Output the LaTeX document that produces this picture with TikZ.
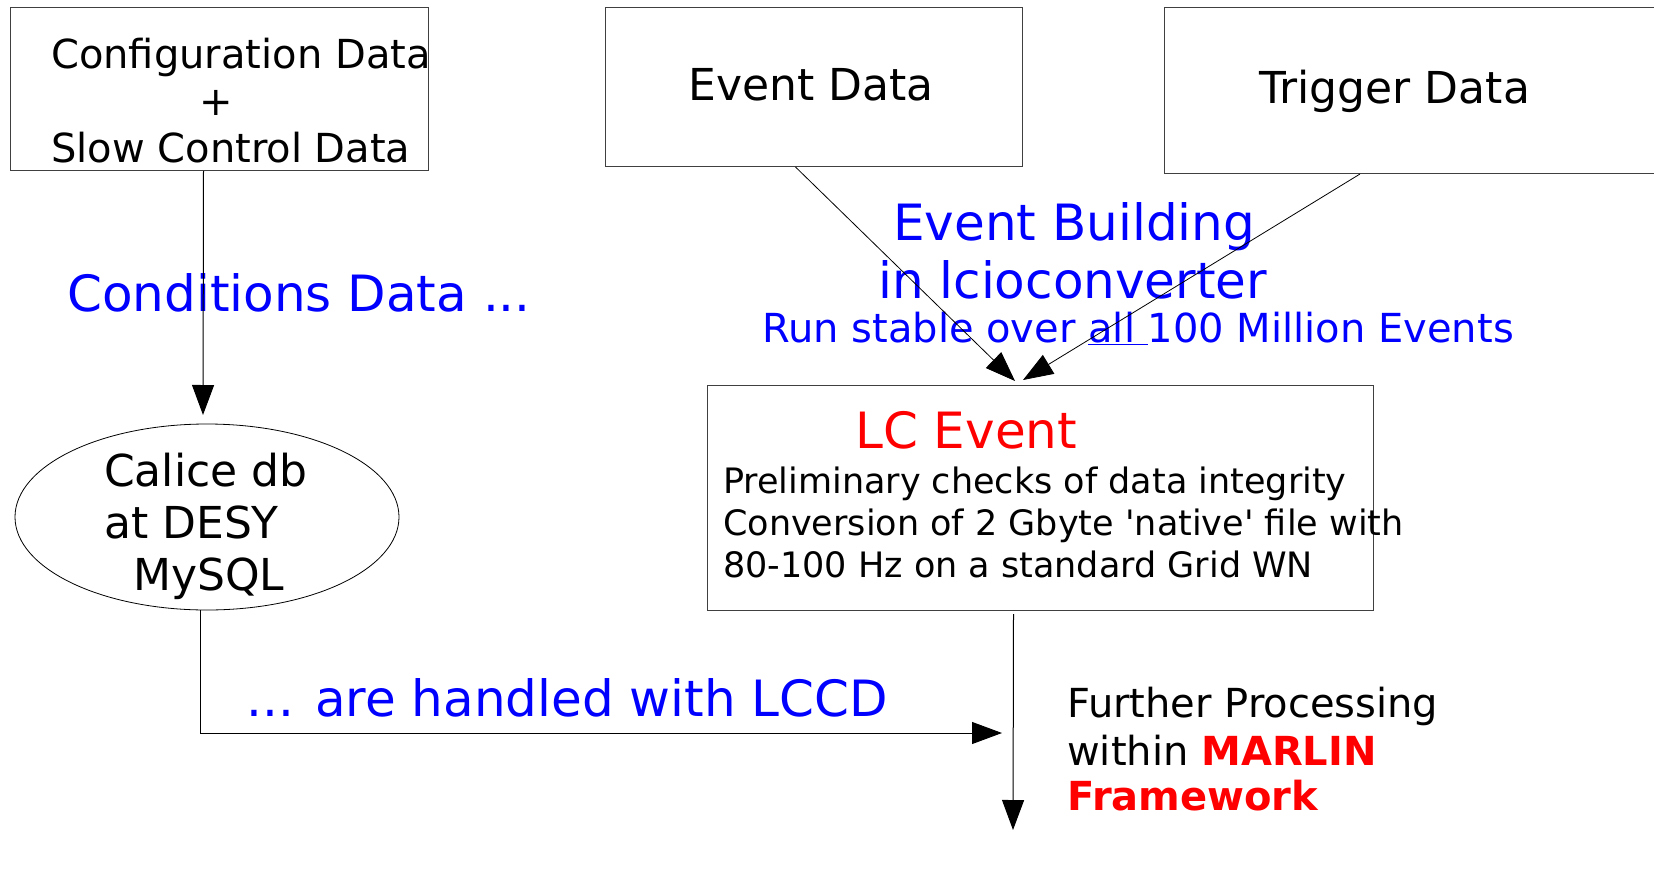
\documentclass[tikz,border=0pt]{standalone}
\usepackage{fontspec}
\setmainfont{DejaVu Sans}[Ligatures=TeXOff]
\usetikzlibrary{arrows.meta,shapes.geometric}
\definecolor{myblue}{RGB}{0,0,255}
\definecolor{myred}{RGB}{255,0,0}
\tikzset{
  boxnode/.style={draw=black!75,line width=1pt,rectangle,inner sep=0pt,anchor=north west},
  txt/.style={inner sep=0pt,anchor=base west},
  arr/.style={line width=1pt,-{Triangle[length=30pt,width=22pt]}},
  thinarr/.style={line width=0.8pt,-{Triangle[length=30pt,width=22pt]}},
  fA/.style={font=\fontsize{40}{47}\selectfont},
  fB/.style={font=\fontsize{44}{52}\selectfont},
  fC/.style={font=\fontsize{50}{58}\selectfont},
  fD/.style={font=\fontsize{35}{42}\selectfont},
}
\begin{document}
\begin{tikzpicture}[x=1pt,y=-1pt]
\useasboundingbox (0,0) rectangle (1654,875);
% boxes
\node[boxnode,minimum width=418pt,minimum height=163pt] (cfg) at (10,7) {};
\node[boxnode,minimum width=417pt,minimum height=159pt] (ev) at (605,7) {};
\node[boxnode,minimum width=560pt,minimum height=166pt] (trig) at (1164,7) {};
\node[draw=black,line width=0.8pt,ellipse,inner sep=0pt,minimum width=384pt,minimum height=186pt] (calice) at (207,517) {};
\node[boxnode,minimum width=666pt,minimum height=225pt] (lc) at (707,385) {};
% texts in boxes
\node[txt,fA] (t1) at (51,68) {Configuration Data};
\node[txt,fA,anchor=base] (t2) at (216,115) {+};
\node[txt,fA] (t3) at (51,162) {Slow Control Data};
\node[txt,fB] (t4) at (688,100) {Event Data};
\node[txt,fB] (t5) at (1259,103) {Trigger Data};
\node[txt,fB] (t6) at (104,486) {Calice db};
\node[txt,fB] (t7) at (104,538) {at DESY};
\node[txt,fB] (t8) at (133,590) {MySQL};
\node[txt,fC,text=myred] (t9) at (855,448) {LC Event};
\node[txt,fD] (t10) at (723,493) {Preliminary checks of data integrity};
\node[txt,fD] (t11) at (723,535) {Conversion of 2 Gbyte 'native' file with};
\node[txt,fD] (t12) at (723,577) {80-100 Hz on a standard Grid WN};
% blue labels
\node[txt,fC,text=myblue] (l1) at (67,311) {Conditions Data ...};
\node[txt,fC,text=myblue] (l2) at (893,240) {Event Building};
\node[txt,fC,text=myblue] (l3) at (878,298) {in lcioconverter};
\node[txt,fA,text=myblue] (l4) at (762,342) {Run stable over \underline{all\ }100 Million Events};
\node[txt,fC,text=myblue] (l5) at (246,716) {... are handled with LCCD};
% further processing
\node[txt,fA] (f1) at (1067,717) {Further Processing};
\node[txt,fA] (f2) at (1067,765) {within \textcolor{myred}{\bfseries MARLIN}};
\node[txt,fA,text=myred] (f3) at (1067,810) {\bfseries Framework};
% connector end points
\coordinate (tipA) at (203,415);
\coordinate (tipB) at (1002,733);
\coordinate (tipC) at (1013,830);
\coordinate (tipD) at (1015,381);
\coordinate (tipE) at (1023,380);
% connectors
\draw[arr] ([xshift=-16pt]cfg.south) -- (tipA);
\draw[arr] ([xshift=-7pt]calice.south) |- (tipB);
\draw[arr] ([xshift=-27pt,yshift=-3pt]lc.south) -- (tipC);
\draw[thinarr] ([xshift=-18.5pt]ev.south) -- (tipD);
\draw[thinarr] ([xshift=196pt]trig.south west) -- (tipE);
\end{tikzpicture}
\end{document}
